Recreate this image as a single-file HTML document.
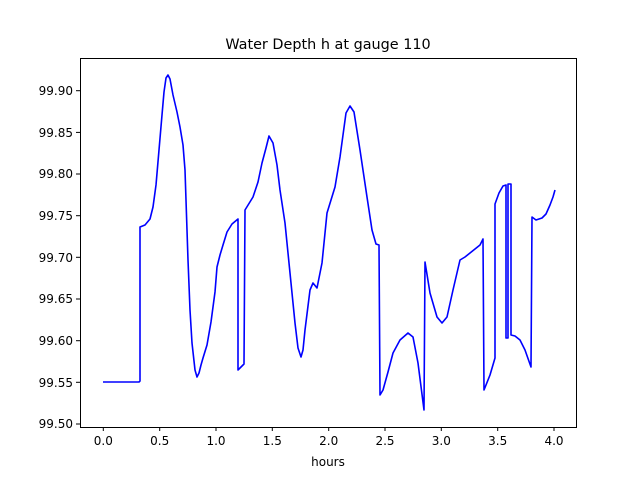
<!DOCTYPE html>
<html><head><style>body{margin:0;background:#fff}svg{display:block}text{font-family:"DejaVu Sans","Liberation Sans",sans-serif;fill:#000}</style></head><body>
<svg width="640" height="480" xmlns="http://www.w3.org/2000/svg">
<text x="328" y="49" font-size="14.4" text-anchor="middle">Water Depth h at gauge 110</text>
<polyline fill="none" stroke="#0000ff" stroke-width="1.6" stroke-linejoin="round" points="103,382 139,382 140,381 140,227 145,225 150,219 153,207 156,185 159,150 162,115 164,92 166,78 168,75 170,79 173,95 177,112 180,127 183,145 185,170 188,260 190,310 192,343 195,370 197,377 199,373 201,365 203,358 207,345 211,322 215,292 217,267 220,255 223,245 227,232 232,224 238,219 238,370 244,364 245,210 253,197 258,182 262,163 266,148 269,136 273,143 277,165 280,190 285,223 290,273 295,323 298,348 301,357 303,350 305,330 310,290 313,283 317,288 322,263 327,213 335,187 340,157 346,113 350,106 354,112 360,150 367,197 372,230 376,244 379,245 380,395 383,390 388,372 393,353 400,340 408,333 413,337 418,363 424,410 425,262 430,293 437,317 442,323 447,317 453,290 460,260 465,257 480,245 483,239 484,390 490,375 495,358 495,204 499,193 503,186 506,185 506,338 508,338 508,184 511,184 511,335 515,336 520,340 525,350 531,367 532,217 536,220 542,218 546,214 550,205 553,197 555,190"/>
<rect x="80.5" y="58.5" width="496" height="369" fill="none" stroke="#000" stroke-width="1"/>
<g stroke="#000" stroke-width="1">
<line x1="103.3" y1="427" x2="103.3" y2="431"/><line x1="159.7" y1="427" x2="159.7" y2="431"/><line x1="216" y1="427" x2="216" y2="431"/><line x1="272.3" y1="427" x2="272.3" y2="431"/><line x1="328.7" y1="427" x2="328.7" y2="431"/><line x1="385" y1="427" x2="385" y2="431"/><line x1="441.3" y1="427" x2="441.3" y2="431"/><line x1="497.7" y1="427" x2="497.7" y2="431"/><line x1="554" y1="427" x2="554" y2="431"/>
<line x1="76" y1="90.7" x2="80" y2="90.7"/><line x1="76" y1="132.4" x2="80" y2="132.4"/><line x1="76" y1="174" x2="80" y2="174"/><line x1="76" y1="215.7" x2="80" y2="215.7"/><line x1="76" y1="257.3" x2="80" y2="257.3"/><line x1="76" y1="299" x2="80" y2="299"/><line x1="76" y1="340.7" x2="80" y2="340.7"/><line x1="76" y1="382.3" x2="80" y2="382.3"/><line x1="76" y1="424" x2="80" y2="424"/>
</g>
<g font-size="12" text-anchor="middle">
<text x="103.3" y="445">0.0</text><text x="159.7" y="445">0.5</text><text x="216" y="445">1.0</text><text x="272.3" y="445">1.5</text><text x="328.7" y="445">2.0</text><text x="385" y="445">2.5</text><text x="441.3" y="445">3.0</text><text x="497.7" y="445">3.5</text><text x="554" y="445">4.0</text>
<text x="328" y="466">hours</text>
</g>
<g font-size="12" text-anchor="end">
<text x="73" y="95">99.90</text><text x="73" y="137">99.85</text><text x="73" y="178">99.80</text><text x="73" y="220">99.75</text><text x="73" y="262">99.70</text><text x="73" y="303">99.65</text><text x="73" y="345">99.60</text><text x="73" y="387">99.55</text><text x="73" y="428">99.50</text>
</g>
</svg>
</body></html>
